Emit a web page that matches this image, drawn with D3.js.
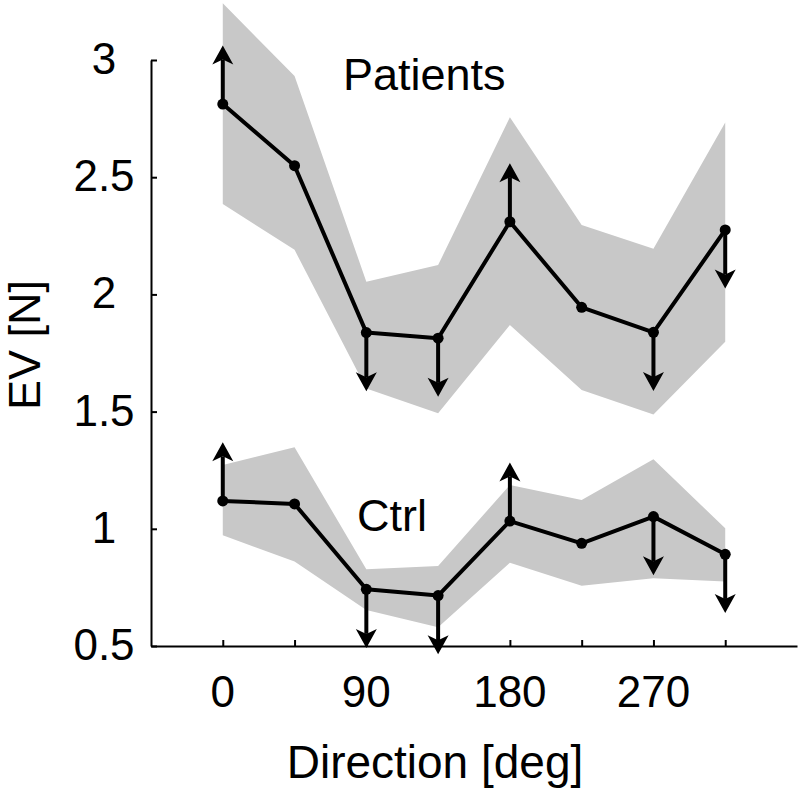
<!DOCTYPE html>
<html>
<head>
<meta charset="utf-8">
<script src="https://cdn.jsdelivr.net/npm/d3@7"></script>
<style>
  html, body { margin: 0; padding: 0; background: #fff; }
  text { font-family: "Liberation Sans", Arial, sans-serif; fill: #000; }
</style>
</head>
<body>
<svg id="chart" width="803" height="792"></svg>
<script>
// ---- data ----
const directions = [0, 45, 90, 135, 180, 225, 270, 315];
const xTickValues = [0, 45, 90, 135, 180, 225, 270, 315];
const xTickLabels = ["0", "", "90", "", "180", "", "270", ""];
const yTickValues = [0.5, 1, 1.5, 2, 2.5, 3];
const yTickLabels = ["0.5", "1", "1.5", "2", "2.5", "3"];

const patientsMean  = [2.812, 2.549, 1.837, 1.813, 2.310, 1.945, 1.838, 2.275];
const patientsUpper = [3.242, 2.932, 2.054, 2.125, 2.756, 2.296, 2.195, 2.733];
const patientsLower = [2.386, 2.190, 1.599, 1.493, 1.869, 1.592, 1.488, 1.798];
const patientsArrow = [1, 0, -1, -1, 1, 0, -1, -1];

const ctrlMean  = [1.119, 1.106, 0.742, 0.715, 1.033, 0.938, 1.052, 0.891];
const ctrlUpper = [1.272, 1.348, 0.827, 0.841, 1.187, 1.123, 1.297, 1.002];
const ctrlLower = [0.973, 0.860, 0.654, 0.580, 0.855, 0.757, 0.789, 0.775];
const ctrlArrow = [1, 0, -1, -1, 1, 0, -1, -1];

const arrowLength = 0.25;
const groupLabels = ["Patients", "Ctrl"];

// ---- layout ----
const svg = d3.select("#chart");
const x = d3.scaleLinear().domain([-45, 360]).range([151, 797]);
const y = d3.scaleLinear().domain([0.5, 3]).range([646, 60]);

const groups = [
  { name: groupLabels[0], mean: patientsMean, upper: patientsUpper, lower: patientsLower, arrow: patientsArrow, lx: 343, ly: 90 },
  { name: groupLabels[1], mean: ctrlMean, upper: ctrlUpper, lower: ctrlLower, arrow: ctrlArrow, lx: 357, ly: 531 }
];

// bands
const area = d3.area()
  .x((d, i) => x(directions[i]))
  .y0(d => y(d[0]))
  .y1(d => y(d[1]));
groups.forEach(g => {
  svg.append("path")
    .datum(g.lower.map((v, i) => [v, g.upper[i]]))
    .attr("d", area)
    .attr("fill", "#c8c8c8");
});

// axes
const yAxis = d3.axisLeft(y).tickValues(yTickValues).tickSize(-6).tickFormat("").tickSizeOuter(0);
const xAxis = d3.axisBottom(x).tickValues(xTickValues).tickSize(-6).tickFormat("").tickSizeOuter(0);
const gy = svg.append("g").attr("transform", `translate(${x(-45)},0)`).call(yAxis);
const gx = svg.append("g").attr("transform", `translate(0,${y(0.5)})`).call(xAxis);
[gy, gx].forEach(g => {
  g.selectAll("path.domain").attr("stroke", "#000").attr("stroke-width", 2);
  g.selectAll(".tick line").attr("stroke", "#000").attr("stroke-width", 2);
});

// tick labels
svg.append("g").selectAll("text").data(yTickValues).join("text")
  .attr("x", 104).attr("y", d => y(d) + 14)
  .attr("text-anchor", "middle").attr("font-size", 44)
  .text((d, i) => yTickLabels[i]);
svg.append("g").selectAll("text").data(xTickValues).join("text")
  .attr("x", d => x(d)).attr("y", 707)
  .attr("text-anchor", "middle").attr("font-size", 44)
  .text((d, i) => xTickLabels[i]);

// axis titles
svg.append("text").attr("x", 435).attr("y", 778).attr("text-anchor", "middle")
  .attr("font-size", 46).text("Direction [deg]");
svg.append("text").attr("transform", "translate(40,345) rotate(-90)").attr("text-anchor", "middle")
  .attr("font-size", 45).text("EV [N]");

// lines, arrows, dots
const line = d3.line().x((d, i) => x(directions[i])).y(d => y(d));
groups.forEach(g => {
  svg.append("path").datum(g.mean).attr("d", line)
    .attr("fill", "none").attr("stroke", "#000").attr("stroke-width", 4).attr("stroke-linejoin", "round");

  g.arrow.forEach((dir, i) => {
    if (!dir) return;
    const x0 = x(directions[i]);
    const y0 = y(g.mean[i]);
    const y1 = y(g.mean[i] + dir * arrowLength);
    const s = y1 < y0 ? 1 : -1; // +1 means arrow points up on screen
    const headLen = 19, headHalf = 10.5, notch = 5;
    svg.append("line")
      .attr("x1", x0).attr("y1", y0).attr("x2", x0).attr("y2", y1 + s * (headLen - notch))
      .attr("stroke", "#000").attr("stroke-width", 4);
    const p = d3.path();
    p.moveTo(x0, y1);
    p.lineTo(x0 - headHalf, y1 + s * headLen);
    p.lineTo(x0, y1 + s * (headLen - notch));
    p.lineTo(x0 + headHalf, y1 + s * headLen);
    p.closePath();
    svg.append("path").attr("d", p.toString()).attr("fill", "#000");
  });

  svg.append("g").selectAll("circle").data(g.mean).join("circle")
    .attr("cx", (d, i) => x(directions[i])).attr("cy", d => y(d))
    .attr("r", 5.5).attr("fill", "#000");

  svg.append("text").attr("x", g.lx).attr("y", g.ly).attr("font-size", 45).text(g.name);
});
</script>
</body>
</html>
